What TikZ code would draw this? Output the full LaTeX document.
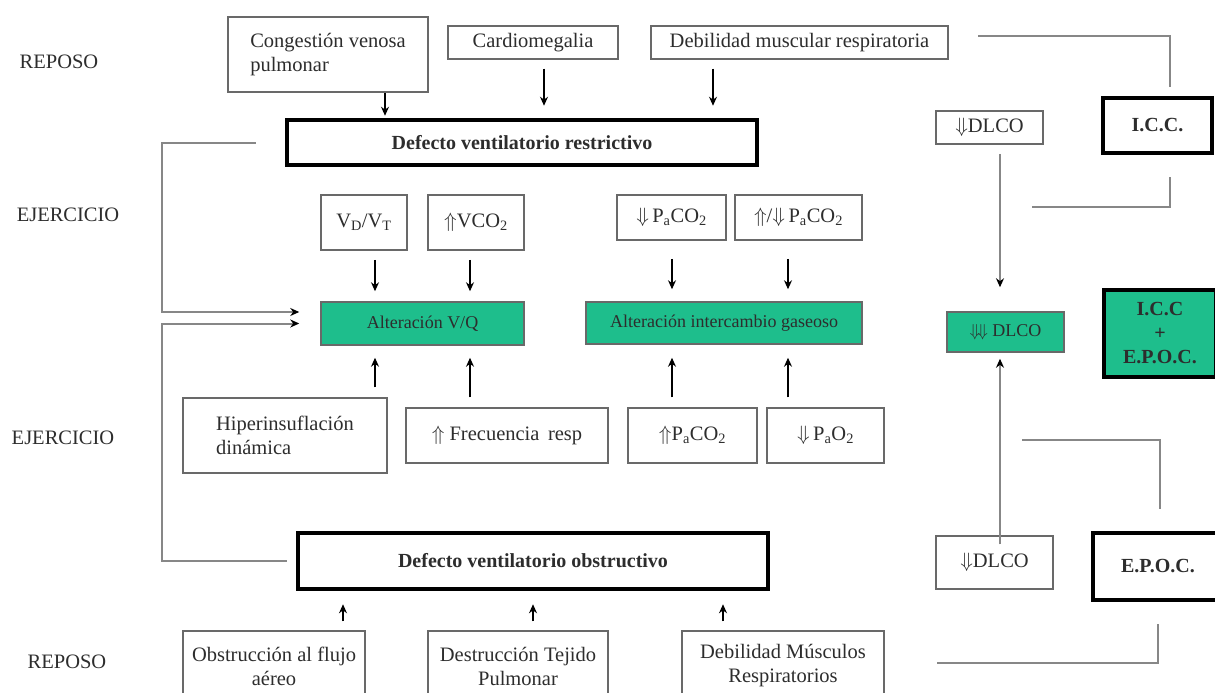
\documentclass[tikz,border=0pt]{standalone}
\usepackage{fontspec}
\setmainfont{Liberation Serif}
\usetikzlibrary{positioning,calc,arrows.meta}

\definecolor{boxgray}{RGB}{105,105,105}
\definecolor{linegray}{RGB}{135,135,135}
\definecolor{vqgreen}{RGB}{30,190,140}
\definecolor{ink}{RGB}{45,45,45}

\begin{document}
\begin{tikzpicture}[%
    x=1pt, y=-1pt,
    ->,
    shorten >=2pt,
    >={Stealth[length=9pt,width=8pt,black]},
    every node/.style={font=\fontsize{20.5}{24}\selectfont, text=ink},
    cause/.style={%
      rectangle,
      draw=boxgray,
      line width=1.5pt,
      fill=white,
      inner sep=0pt,
      align=center
    },
    defect/.style={%
      cause,
      draw=black,
      line width=4.5pt,
      font=\fontsize{20}{24}\selectfont\bfseries
    },
    alter/.style={cause, fill=vqgreen, font=\fontsize{18}{22}\selectfont},
    arrow/.style={black, line width=1.3pt},
    feed/.style={draw=linegray, line width=2pt},
    bracket/.style={-, draw=linegray, line width=2.5pt, shorten >=0pt}
  ]
    \useasboundingbox (0,0) rectangle (1215,693);
    \fill[white,-] (0,0) rectangle (1215,693);
    \clip (0,0) rectangle (1215,693);

    % phases
    \node (L1) at (59,62) {REPOSO};
    \node (L2) at (68,215) {EJERCICIO};
    \node (L3) at (63,438) {EJERCICIO};
    \node (L4) at (67,662) {REPOSO};

    % top row
    \node[cause, align=left, minimum width=200pt, minimum height=75pt] (1) at (328,54.5) {Congestión venosa\\pulmonar};
    \node[cause, minimum width=170pt, minimum height=33pt] (2) at (533,42.5) {Cardiomegalia};
    \node[cause, minimum width=297pt, minimum height=33pt] (3) at (799.5,42.5) {Debilidad muscular respiratoria};
    \node[defect, minimum width=470pt, minimum height=45pt] (4) at (522,142.5) {Defecto ventilatorio restrictivo};
    \node[cause, minimum width=107pt, minimum height=33pt] (5) at (989.5,127.5) {$\Downarrow$DLCO};
    \node[defect, minimum width=109pt, minimum height=55pt] (6) at (1157.5,125.5) {I.C.C.};

    % exercise, upper
    \node[cause, minimum width=86pt, minimum height=55pt] (7) at (364,222.5) {V\textsubscript{D}/V\textsubscript{T}};
    \node[cause, minimum width=96pt, minimum height=55pt] (8) at (476,222.5) {$\Uparrow$VCO\textsubscript{2}};
    \node[cause, minimum width=109pt, minimum height=45pt] (9) at (671.5,217.5) {$\Downarrow$\,P\textsubscript{a}CO\textsubscript{2}};
    \node[cause, minimum width=127pt, minimum height=45pt] (10) at (798.5,217.5) {$\Uparrow$/$\Downarrow$\,P\textsubscript{a}CO\textsubscript{2}};

    % middle row
    \node[alter, minimum width=203pt, minimum height=43pt] (11) at (422.5,323.5) {Alteración V/Q};
    \node[alter, minimum width=276pt, minimum height=42pt] (12) at (724,323) {Alteración intercambio gaseoso};
    \node[alter, minimum width=117pt, minimum height=40pt] (13) at (1005.5,332) {$\Downarrow\!\Downarrow$ DLCO};
    \node[defect, fill=vqgreen, minimum width=112pt, minimum height=87pt] (14) at (1160,333.5) {I.C.C\\+\\E.P.O.C.};

    % exercise, lower
    \node[cause, align=left, minimum width=204pt, minimum height=75pt] (15) at (285,435.5) {Hiperinsuflación\\dinámica};
    \node[cause, minimum width=202pt, minimum height=55pt] (16) at (507,435.5) {$\Uparrow$ Frecuencia\, resp};
    \node[cause, minimum width=129pt, minimum height=55pt] (17) at (692.5,435.5) {$\Uparrow$P\textsubscript{a}CO\textsubscript{2}};
    \node[cause, minimum width=117pt, minimum height=55pt] (18) at (825.5,435.5) {$\Downarrow$\,P\textsubscript{a}O\textsubscript{2}};

    % bottom
    \node[defect, minimum width=470pt, minimum height=56pt] (19) at (533,561) {Defecto ventilatorio obstructivo};
    \node[cause, minimum width=117pt, minimum height=53pt] (20) at (994.5,562.5) {$\Downarrow$DLCO};
    \node[defect, minimum width=130pt, minimum height=67pt] (21) at (1158,566.5) {E.P.O.C.};
    \node[cause, minimum width=182pt, minimum height=70pt] (22) at (274,666) {Obstrucción al flujo\\aéreo};
    \node[cause, minimum width=180pt, minimum height=70pt] (23) at (518,666) {Destrucción Tejido\\Pulmonar};
    \node[cause, minimum width=202pt, minimum height=70pt] (24) at (783,666) {Debilidad Músculos\\Respiratorios};

    % columns for the arrows
    \coordinate (C1) at (385,0);
    \coordinate (C2) at (544,0);
    \coordinate (C3) at (713,0);
    \coordinate (V1) at (375,0);
    \coordinate (V2) at (470,0);
    \coordinate (G1) at (672,0);
    \coordinate (G2) at (788,0);
    \coordinate (O1) at (343,0);
    \coordinate (O2) at (533,0);
    \coordinate (O3) at (723,0);
    \coordinate (D) at (1000,0);
    \coordinate (Loop) at (162,0);
    \coordinate (In1) at ([yshift=11.5pt]11.west);

    \path (C1 |- 1.south) edge[arrow] (C1 |- 4.north)
          (C2 |- 2.south) edge[arrow, shorten <=9pt, shorten >=12pt] (C2 |- 4.north)
          (C3 |- 3.south) edge[arrow, shorten <=9pt, shorten >=12pt] (C3 |- 4.north)
          (V1 |- 7.south) edge[arrow, shorten <=9pt, shorten >=10pt] (V1 |- 11.north)
          (V2 |- 8.south) edge[arrow, shorten <=9pt, shorten >=10pt] (V2 |- 11.north)
          (G1 |- 9.south) edge[arrow, shorten <=18pt, shorten >=12pt] (G1 |- 12.north)
          (G2 |- 10.south) edge[arrow, shorten <=18pt, shorten >=12pt] (G2 |- 12.north)
          (V1 |- 15.north) edge[arrow, shorten <=10pt, shorten >=12pt] (V1 |- 11.south)
          (V2 |- 16.north) edge[arrow, shorten <=10pt, shorten >=12pt] (V2 |- 11.south)
          (G1 |- 17.north) edge[arrow, shorten <=10pt, shorten >=13pt] (G1 |- 12.south)
          (G2 |- 18.north) edge[arrow, shorten <=10pt, shorten >=13pt] (G2 |- 12.south)
          (O1 |- 22.north) edge[arrow, shorten <=9pt, shorten >=13pt] (O1 |- 19.south)
          (O2 |- 23.north) edge[arrow, shorten <=9pt, shorten >=13pt] (O2 |- 19.south)
          (O3 |- 24.north) edge[arrow, shorten <=9pt, shorten >=13pt] (O3 |- 19.south)
          (D |- 5.south) edge[feed, shorten <=9pt, shorten >=24pt] (D |- 13.north)
          (D |- 20.north) edge[feed, shorten <=-9pt, shorten >=6pt] (D |- 13.south);

    % both defects feed V/Q
    \draw[feed, shorten <=29pt, shorten >=21pt] (4.west) -| (Loop |- In1) -- (In1);
    \draw[feed, shorten <=9pt, shorten >=21pt] (19.west) -| (Loop |- 11.west) -- (11.west);

    % brackets on the right
    \coordinate (P1) at (978,36);
    \coordinate (P2) at (1032,207);
    \coordinate (P3) at (1022,440);
    \coordinate (P4) at (937,663);
    \draw[bracket, shorten >=9pt] (P1) -| ([xshift=12.5pt]6.north);
    \draw[bracket, shorten <=22pt] ([xshift=12.5pt]6.south) |- (P2);
    \draw[bracket, shorten >=22pt] (P3) -| ([xshift=2pt]21.north);
    \draw[bracket, shorten <=22pt] (21.south) |- (P4);
\end{tikzpicture}
\end{document}
